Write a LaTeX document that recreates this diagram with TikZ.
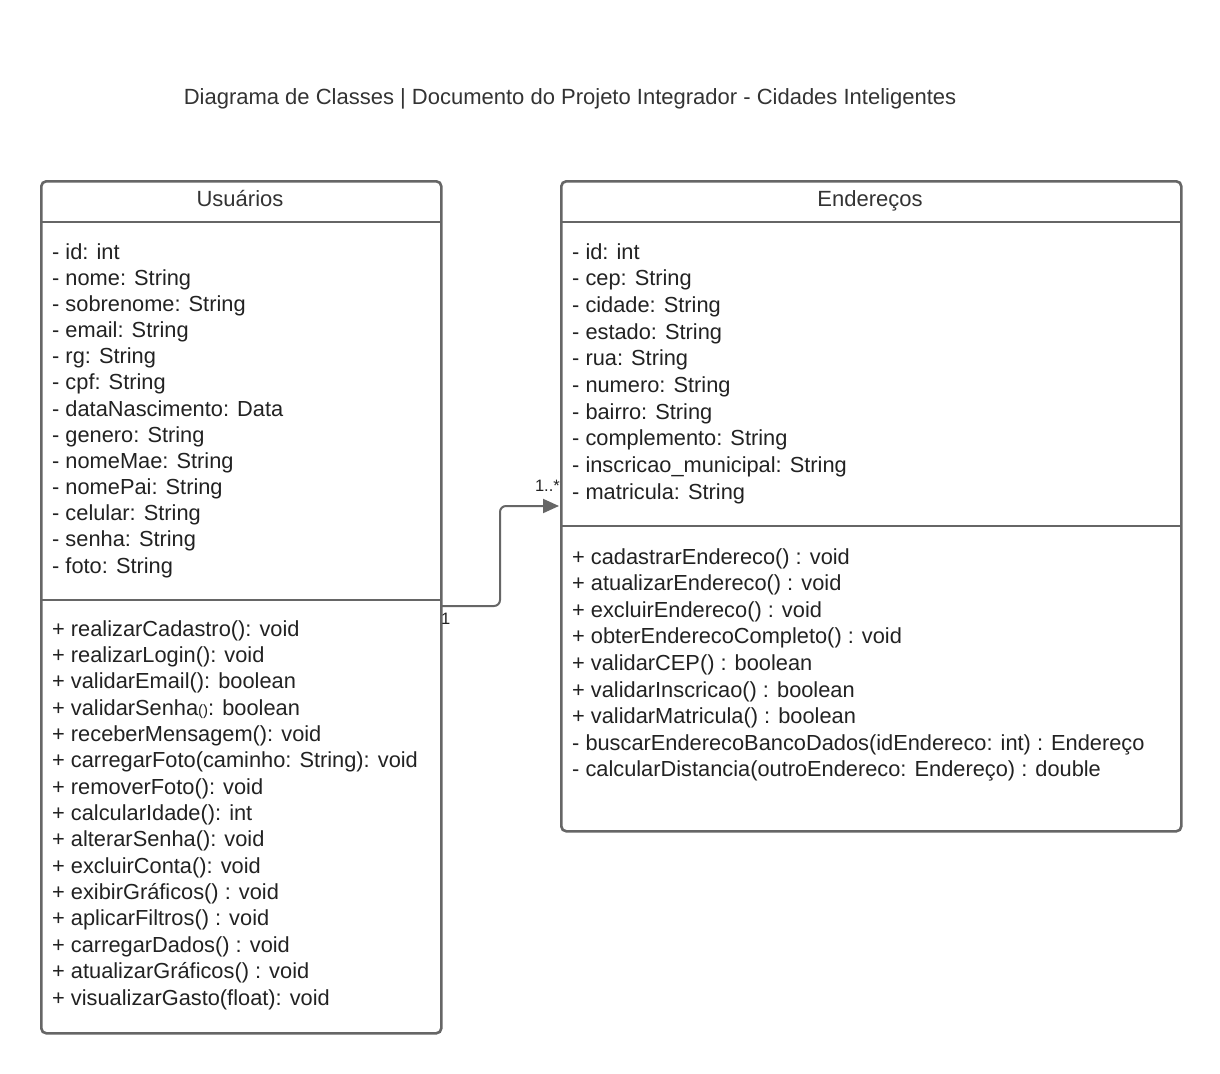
\documentclass[tikz,border=0pt]{standalone}
\usepackage{fontspec}
\setmainfont{Liberation Sans}
\usetikzlibrary{arrows.meta}
\definecolor{boxline}{HTML}{666666}
\definecolor{txt}{HTML}{222222}
\definecolor{ttl}{HTML}{333333}
\tikzset{
  umlbox/.style={draw=boxline, line width=2.6pt, rounded corners=5pt, inner sep=0pt, anchor=north west},
  sepline/.style={draw=boxline, line width=2.6pt},
  item/.style={anchor=base west, inner sep=0pt, text=txt, font=\fontsize{21.8}{24}\selectfont},
  head/.style={inner sep=0pt, text=ttl, font=\fontsize{22}{24}\selectfont},
  mult/.style={inner sep=0pt, text=txt, font=\fontsize{16.5}{18}\selectfont},
  conn/.style={draw=boxline, line width=2pt, rounded corners=6pt, -{Triangle[length=16pt,width=14pt]}},
}
\begin{document}
\begin{tikzpicture}[x=1pt,y=-1pt]
\useasboundingbox (0,0) rectangle (1220,1073);
\fill[white] (0,0) rectangle (1220,1073);

\node[head, anchor=base] (title) at (570,104) {Diagrama de Classes | Documento do Projeto Integrador - Cidades Inteligentes};

% Usuarios
\node[umlbox, minimum width=400pt, minimum height=852pt] (usu) at (40,180) {};
\coordinate (uh1) at (40,222); \coordinate (uh2) at (440,222);
\coordinate (ud1) at (40,600); \coordinate (ud2) at (440,600);
\draw[sepline] (uh1) -- (uh2);
\draw[sepline] (ud1) -- (ud2);
\node[head, anchor=base] (usuT) at (240,206) {Usuários};
\foreach \t [count=\i from 0] in {- id: int, - nome: String, - sobrenome: String, - email: String, - rg: String, - cpf: String, - dataNascimento: Data, - genero: String, - nomeMae: String, - nomePai: String, - celular: String, - senha: String, - foto: String}
  \node[item] (ua\i) at (52,{259+26.17*\i}) {\t};
\foreach \t [count=\i from 0] in {+ realizarCadastro(): void, + realizarLogin(): void, + validarEmail(): boolean, + validarSenha{\fontsize{15}{16}\selectfont()}: boolean, + receberMensagem(): void, + carregarFoto(caminho: String): void, + removerFoto(): void, + calcularIdade(): int, + alterarSenha(): void, + excluirConta(): void, + exibirGráficos() : void, + aplicarFiltros() : void, + carregarDados() : void, + atualizarGráficos() : void, + visualizarGasto(float): void}
  \node[item] (um\i) at (52,{636+26.36*\i}) {\t};

% Enderecos
\node[umlbox, minimum width=620pt, minimum height=650pt] (end) at (560,180) {};
\coordinate (eh1) at (560,222); \coordinate (eh2) at (1180,222);
\coordinate (ed1) at (560,526); \coordinate (ed2) at (1180,526);
\draw[sepline] (eh1) -- (eh2);
\draw[sepline] (ed1) -- (ed2);
\node[head, anchor=base] (endT) at (870,206) {Endereços};
\foreach \t [count=\i from 0] in {- id: int, - cep: String, - cidade: String, - estado: String, - rua: String, - numero: String, - bairro: String, - complemento: String, - inscricao\_municipal: String, - matricula: String}
  \node[item] (ea\i) at (572,{259+26.67*\i}) {\t};
\foreach \t [count=\i from 0] in {+ cadastrarEndereco() : void, + atualizarEndereco() : void, + excluirEndereco() : void, + obterEnderecoCompleto() : void, + validarCEP() : boolean, + validarInscricao() : boolean, + validarMatricula() : boolean, - buscarEnderecoBancoDados(idEndereco: int) : Endereço, - calcularDistancia(outroEndereco: Endereço) : double}
  \node[item] (em\i) at (572,{564+26.6*\i}) {\t};

% connector
\coordinate (cs) at (440,606);
\coordinate (ce) at (559,506);
\draw[conn] (cs) -- (500,606) -- (500,506) -- (ce);
\node[mult, anchor=north west] (m1) at (441,613) {1};
\node[mult, anchor=south east] (m2) at (560,492) {1..*};
\end{tikzpicture}
\end{document}
